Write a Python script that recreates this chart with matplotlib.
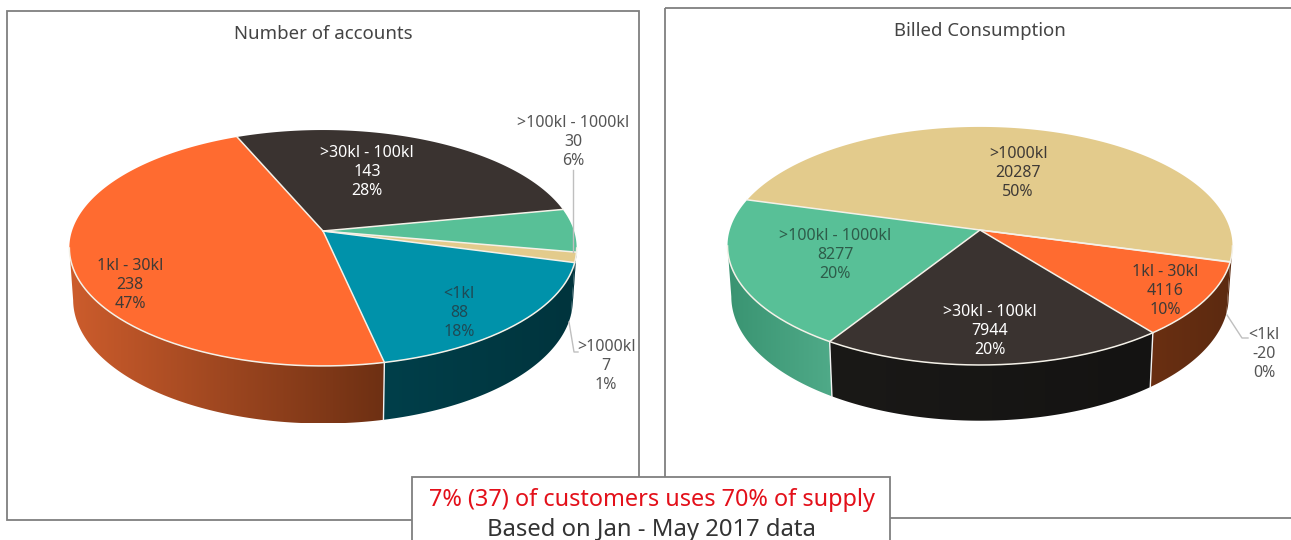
import numpy as np
import matplotlib
matplotlib.use("Agg")
import matplotlib.pyplot as plt
from matplotlib.colors import to_rgb
from matplotlib.patches import Polygon, Rectangle

plt.rcParams['font.family'] = ['Noto Sans', 'DejaVu Sans']

# data, clockwise from the first slice
acc_names = ['>30kl - 100kl', '>100kl - 1000kl', '>1000kl', '<1kl', '1kl - 30kl']
acc_values = [143, 30, 7, 88, 238]
acc_pct = [28, 6, 1, 18, 47]

bill_names = ['>1000kl', '<1kl', '1kl - 30kl', '>30kl - 100kl', '>100kl - 1000kl']
bill_values = [20287, -20, 4116, 7944, 8277]
bill_pct = [50, 0, 10, 20, 20]

title_left = 'Number of accounts'
title_right = 'Billed Consumption'
note_red = '7% (37) of customers uses 70% of supply'
note_black = 'Based on Jan - May 2017 data'

ORANGE, DARK, GREEN, TAN, TEAL = '#FF6B30', '#3A3330', '#58C097', '#E3CB8C', '#0092AA'
# wall colours: left end, right end of each slice
# (slices that only just reach the edge take the neighbour's colour, no sliver shows there)
WALL_LEFT = {
    ORANGE: ('#CC5C2C', '#6E3013'),
    DARK: ('#1E1C1A', '#131211'),
    GREEN: ('#00343D', '#00343D'),
    TAN: ('#00343D', '#00343D'),
    TEAL: ('#003F4A', '#00343D'),
}
WALL_RIGHT = {
    ORANGE: ('#6A2F12', '#5C2A10'),
    DARK: ('#1A1917', '#141312'),
    GREEN: ('#3A9472', '#4FAA88'),
    TAN: ('#5C2A10', '#5C2A10'),
    TEAL: ('#5C2A10', '#5C2A10'),
}
TEXT_DARK = '#3F3A36'
LABEL_GREY = '#555555'
FRAME = '#7F7F7F'
SEAM = '#F4F1E8'


def project(theta, cx, cy, a, b, k, drop=0.0, shrink=1.0):
    '''Perspective view of the unit circle, theta clockwise from the top (radians).'''
    X, Y = np.sin(theta), np.cos(theta)
    den = 1 + k * Y
    x = cx + shrink * b * X / den
    y = cy - shrink * a * Y / den + drop / den
    return x, y


def pie3d(ax, values, colors, wall, start, cx, cy, a, b, k, depth):
    vals = np.abs(np.array(values, dtype=float))
    edges = np.radians(start + np.concatenate([[0], np.cumsum(vals)]) / vals.sum() * 360)

    # side wall first, only the part that faces the viewer
    for i, col in enumerate(colors):
        t = np.linspace(edges[i], edges[i + 1], 200)
        t = t[np.cos(t) < -k]
        if len(t) < 2:
            continue
        xt, yt = project(t, cx, cy, a, b, k)
        xb, yb = project(t, cx, cy, a, b, k, depth, 0.985)
        px, py = np.r_[xt, xb[::-1]], np.r_[yt, yb[::-1]]
        c0, c1 = (np.array(to_rgb(c)) for c in wall[col])
        grad = np.linspace(0, 1, 64)[None, :, None] * (c1 - c0) + c0
        im = ax.imshow(grad, extent=(px.min(), px.max(), py.max(), py.min()),
                       aspect='auto', interpolation='bilinear', zorder=2)
        im.set_clip_path(Polygon(np.c_[px, py], transform=ax.transData))

    # white seams on the wall
    for e in edges:
        if np.cos(e) < -0.3:
            xt, yt = project(e, cx, cy, a, b, k)
            xb, yb = project(e, cx, cy, a, b, k, depth, 0.985)
            ax.plot([xt, xb], [yt, yb], color='#F2F2F2', lw=1, zorder=3)

    # top face
    for i, col in enumerate(colors):
        t = np.linspace(edges[i], edges[i + 1], 200)
        x, y = project(t, cx, cy, a, b, k)
        ax.fill(np.r_[cx, x], np.r_[cy, y], facecolor=col, edgecolor='none', zorder=4)

    # seams on the top, and the front rim
    for e in edges[:-1]:
        x, y = project(e, cx, cy, a, b, k)
        ax.plot([cx, x], [cy, y], color=SEAM, lw=1.1, zorder=5)
    t = np.linspace(np.pi - np.arccos(k), np.pi + np.arccos(k), 300)
    x, y = project(t, cx, cy, a, b, k)
    ax.plot(x, y, color=SEAM, lw=1.1, zorder=5)


def labels(ax, names, values, pct, spots, colors):
    for n, v, p, (x, y), c in zip(names, values, pct, spots, colors):
        ax.text(x, y, f'{n}\n{v}\n{p}%', ha='center', va='center', fontsize=11.5,
                color=c, linespacing=1.25, zorder=6)


fig = plt.figure(figsize=(12.91, 5.40), dpi=100)
ax = fig.add_axes([0, 0, 1, 1])

# chart frames
ax.add_patch(Rectangle((7, 11), 632, 509, fill=False, ec=FRAME, lw=1.3, zorder=1))
ax.add_patch(Rectangle((665, 8), 640, 510, fill=False, ec=FRAME, lw=1.3, zorder=1))

ax.text(323, 34, title_left, ha='center', va='center', fontsize=13.4, color='#444444')
ax.text(980, 31, title_right, ha='center', va='center', fontsize=13.4, color='#444444')

pie3d(ax, acc_values, [DARK, GREEN, TAN, TEAL, ORANGE], WALL_LEFT, -22.8,
      323, 231, 115.5, 251, 0.144, 51)
pie3d(ax, bill_values, [TAN, TEAL, ORANGE, DARK, GREEN], WALL_RIGHT, -74.5,
      980, 230, 116.9, 250.2, 0.134, 50)

# leader lines
ax.plot([573, 573], [170, 252], color='#BFBFBF', lw=1, zorder=5)
ax.plot([569, 574, 578], [322, 352, 352], color='#BFBFBF', lw=1, zorder=5)
ax.plot([1227, 1242, 1248], [315, 338, 338], color='#BFBFBF', lw=1, zorder=5)

labels(ax, acc_names, acc_values, acc_pct,
       [(367, 172), (573, 142), (606, 366), (459, 313), (130, 285)],
       ['white', LABEL_GREY, LABEL_GREY, '#1F4A55', TEXT_DARK])
labels(ax, bill_names, bill_values, bill_pct,
       [(1018, 173), (1264, 354), (1165, 291), (990, 331), (835, 255)],
       [TEXT_DARK, LABEL_GREY, TEXT_DARK, 'white', '#2E5C4A'])

# callout on top of both frames
ax.add_patch(Rectangle((412, 477), 478, 70, fc='white', ec=FRAME, lw=1.3, zorder=7))
ax.text(652, 500, note_red, ha='center', va='center', fontsize=16.9, color='#E3101A', zorder=8)
ax.text(651, 530, note_black, ha='center', va='center', fontsize=17.2, color='#333333', zorder=8)

ax.set_xlim(0, 1291)
ax.set_ylim(540, 0)
ax.axis('off')

fig.savefig('out.png', dpi=100)
